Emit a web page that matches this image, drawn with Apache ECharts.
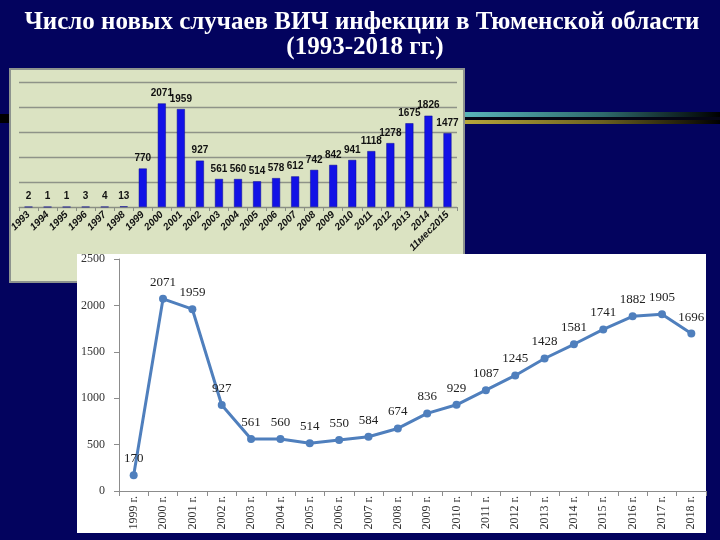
<!DOCTYPE html>
<html>
<head>
<meta charset="utf-8">
<script src="https://cdn.jsdelivr.net/npm/echarts@6/dist/echarts.min.js"></script>
<style>
html,body{margin:0;padding:0;background:#03035e;}
#chart{width:720px;height:540px;}
</style>
</head>
<body>
<div id="chart"></div>
<script>
// ---- Data: bar chart (1993-2015) ----
const barCategories = ['1993','1994','1995','1996','1997','1998','1999','2000','2001','2002','2003','2004','2005','2006','2007','2008','2009','2010','2011','2012','2013','2014','11мес2015'];
const barValues = [2,1,1,3,4,13,770,2071,1959,927,561,560,514,578,612,742,842,941,1118,1278,1675,1826,1477];
const barTicks = [0,500,1000,1500,2000,2500];

// ---- Data: line chart (1999-2018) ----
const lineCategories = ['1999 г.','2000 г.','2001 г.','2002 г.','2003 г.','2004 г.','2005 г.','2006 г.','2007 г.','2008 г.','2009 г.','2010 г.','2011 г.','2012 г.','2013 г.','2014 г.','2015 г.','2016 г.','2017 г.','2018 г.'];
const lineValues = [170,2071,1959,927,561,560,514,550,584,674,836,929,1087,1245,1428,1581,1741,1882,1905,1696];
const lineTicks = [0,500,1000,1500,2000,2500];

const titleLine1 = 'Число новых случаев ВИЧ инфекции в Тюменской области';
const titleLine2 = '(1993-2018 гг.)';

const chart = echarts.init(document.getElementById('chart'), null, {renderer:'canvas'});
const serif = '"Liberation Serif","Times New Roman",serif';
const narrow = '"Liberation Sans Narrow","Arial Narrow","Liberation Sans",sans-serif';

chart.setOption({
  backgroundColor: '#03035e',
  animation: false,
  graphic: [
    {type:'text', z:10, x:362, y:23, style:{text:titleLine1, textAlign:'center', textVerticalAlign:'middle', fill:'#ffffff', font:'bold 25px ' + serif}},
    {type:'text', z:10, x:365, y:48, style:{text:titleLine2, textAlign:'center', textVerticalAlign:'middle', fill:'#ffffff', font:'bold 25px ' + serif}},
    {type:'rect', z:0, shape:{x:0,y:114,width:14,height:9}, style:{fill:'#000000'}},
    {type:'rect', z:0, shape:{x:460,y:112,width:260,height:5},
      style:{fill:new echarts.graphic.LinearGradient(0,0,1,0,[{offset:0,color:'#5bb8bc'},{offset:0.55,color:'#2e6a6c'},{offset:1,color:'#000000'}])}},
    {type:'rect', z:0, shape:{x:460,y:117,width:260,height:3}, style:{fill:'#050515'}},
    {type:'rect', z:0, shape:{x:460,y:120,width:260,height:4},
      style:{fill:new echarts.graphic.LinearGradient(0,0,1,0,[{offset:0,color:'#b9a83c'},{offset:0.55,color:'#6a6020'},{offset:1,color:'#000000'}])}},
    {type:'rect', z:1, shape:{x:10,y:69,width:454,height:213}, style:{fill:'#dbe3c2', stroke:'#8d938e', lineWidth:2}},
    {type:'rect', z:5, shape:{x:77,y:254,width:629,height:279}, style:{fill:'#ffffff'}}
  ],
  grid: [
    {left:19, right:263, top:82, bottom:333, containLabel:false},
    {left:119, right:14, top:259, bottom:49, containLabel:false}
  ],
  xAxis: [
    {
      gridIndex:0, type:'category', data:barCategories, z:2,
      axisLine:{show:true, lineStyle:{color:'#8a8f84', width:1}},
      axisTick:{show:true, length:4, lineStyle:{color:'#8a8f84'}},
      axisLabel:{rotate:45, interval:0, margin:6, fontFamily:narrow, fontWeight:'bold', fontStyle:'italic', fontSize:10, color:'#111'}
    },
    {
      gridIndex:1, type:'category', data:lineCategories, z:6, boundaryGap:true,
      axisLine:{show:true, lineStyle:{color:'#8c8c8c', width:1}},
      axisTick:{show:true, length:5, lineStyle:{color:'#8c8c8c'}},
      axisLabel:{rotate:90, interval:0, margin:5, fontFamily:serif, fontSize:12, color:'#333'}
    }
  ],
  yAxis: [
    {
      gridIndex:0, type:'value', min:barTicks[0], max:barTicks[barTicks.length-1], interval:500, z:2,
      axisLine:{show:false}, axisTick:{show:false}, axisLabel:{show:false},
      splitLine:{show:true, lineStyle:{color:'#8e9388', width:1.3}}
    },
    {
      gridIndex:1, type:'value', min:lineTicks[0], max:lineTicks[lineTicks.length-1], interval:500, z:6,
      axisLine:{show:true, lineStyle:{color:'#8c8c8c', width:1}},
      axisTick:{show:true, length:5, lineStyle:{color:'#8c8c8c'}},
      axisLabel:{margin:14, fontFamily:serif, fontSize:12, color:'#333', formatter: function(v){ return String(v); }},
      splitLine:{show:false}
    }
  ],
  series: [
    {
      type:'bar', xAxisIndex:0, yAxisIndex:0, data:barValues, z:3,
      barWidth:8,
      itemStyle:{color:'#1212e6', borderColor:'#0a0a90', borderWidth:0.5},
      label:{show:true, position:'top', distance:5, fontFamily:narrow, fontWeight:'bold', fontSize:10, color:'#111'}
    },
    {
      type:'line', xAxisIndex:1, yAxisIndex:1, data:lineValues, z:7,
      symbol:'circle', symbolSize:8,
      lineStyle:{color:'#4f7fbd', width:3},
      itemStyle:{color:'#4f7fbd'},
      label:{show:true, position:'top', distance:6, fontFamily:serif, fontSize:13, color:'#222'}
    }
  ]
});
</script>
</body>
</html>
